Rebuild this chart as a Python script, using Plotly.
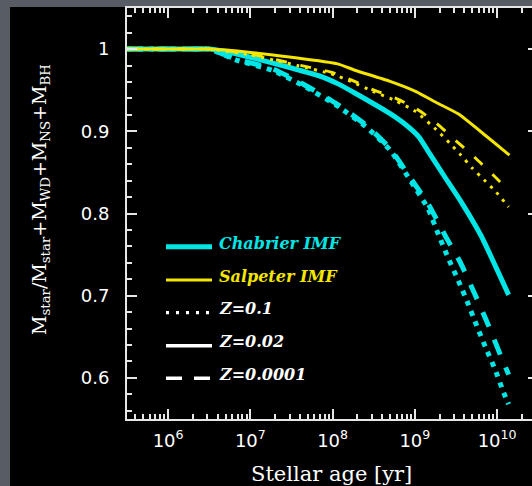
import numpy as np
import plotly.graph_objects as go

# ---- data: log10(age / yr) and stellar-mass fraction M_star / (M_star + remnants) ----
chab_z02_logt = [5.5, 6.3, 6.5, 6.8, 7.0, 7.5, 7.88, 8.06, 8.28, 8.69, 8.9, 9.05, 9.16, 9.36, 9.57, 9.81, 10.03, 10.14]
chab_z02_frac = [1.0, 1.0, 1.0, 0.995, 0.990, 0.977, 0.966, 0.958, 0.946, 0.922, 0.907, 0.893, 0.876, 0.845, 0.813, 0.772, 0.725, 0.701]

chab_z01_logt = [5.5, 6.3, 6.5, 6.82, 7.27, 7.65, 8.04, 8.40, 8.70, 8.94, 9.16, 9.28, 9.40, 9.53, 9.64, 9.75, 9.86, 9.98, 10.08, 10.14]
chab_z01_frac = [1.0, 1.0, 1.0, 0.987, 0.974, 0.955, 0.932, 0.906, 0.877, 0.841, 0.806, 0.776, 0.747, 0.718, 0.692, 0.664, 0.637, 0.609, 0.582, 0.568]

chab_z00001_logt = [5.5, 6.3, 6.5, 6.82, 7.27, 7.65, 8.04, 8.40, 8.70, 8.94, 9.16, 9.38, 9.55, 9.72, 9.89, 10.04, 10.14]
chab_z00001_frac = [1.0, 1.0, 1.0, 0.988, 0.976, 0.957, 0.934, 0.908, 0.879, 0.844, 0.812, 0.771, 0.741, 0.704, 0.665, 0.628, 0.604]

salp_z02_logt = [5.5, 6.3, 6.5, 7.0, 7.5, 8.06, 8.28, 8.69, 9.02, 9.26, 9.53, 9.87, 10.15]
salp_z02_frac = [1.0, 1.0, 1.0, 0.996, 0.990, 0.982, 0.974, 0.961, 0.948, 0.935, 0.921, 0.894, 0.871]

salp_z01_logt = [5.5, 6.3, 6.5, 7.0, 7.57, 7.98, 8.24, 8.48, 8.77, 9.01, 9.26, 9.42, 9.56, 9.70, 9.84, 9.98, 10.14]
salp_z01_frac = [1.0, 1.0, 1.0, 0.993, 0.980, 0.970, 0.960, 0.949, 0.937, 0.924, 0.902, 0.886, 0.871, 0.855, 0.841, 0.827, 0.808]

salp_z00001_logt = [5.5, 6.3, 6.5, 7.0, 7.57, 7.98, 8.24, 8.48, 8.77, 9.01, 9.26, 9.47, 9.72, 9.94, 10.14]
salp_z00001_frac = [1.0, 1.0, 1.0, 0.994, 0.981, 0.972, 0.962, 0.951, 0.940, 0.928, 0.910, 0.891, 0.869, 0.848, 0.828]

# axis ticks
x_tick_exps = [6, 7, 8, 9, 10]
y_tick_vals = [0.6, 0.7, 0.8, 0.9, 1.0]
y_tick_text = ["0.6", "0.7", "0.8", "0.9", "1"]

# legend entries
legend_labels = ["Chabrier IMF", "Salpeter IMF", "Z=0.1", "Z=0.02", "Z=0.0001"]

CYAN = "#00e6e6"
YELLOW = "#f5e600"
WHITE = "#ffffff"
AXIS = "#e6e6e6"

W, H = 532, 486
ML, MR, MT, MB = 127, 0, 8, 67
PW, PH = W - ML - MR, H - MT - MB
X_LO = 5.5
X_HI = X_LO + PW / 82.25


def px(xp):
    return (xp - ML) / PW


def py(yp):
    return (H - MB - yp) / PH


fig = go.Figure()

curves = [
    (chab_z01_logt, chab_z01_frac, CYAN, 5, "5px,6px"),
    (chab_z00001_logt, chab_z00001_frac, CYAN, 5, "16px,14px"),
    (chab_z02_logt, chab_z02_frac, CYAN, 5, "solid"),
    (salp_z01_logt, salp_z01_frac, YELLOW, 3, "3px,6px"),
    (salp_z00001_logt, salp_z00001_frac, YELLOW, 3, "11px,14px"),
    (salp_z02_logt, salp_z02_frac, YELLOW, 3, "solid"),
]
for logt, frac, col, w, dash in curves:
    fig.add_trace(go.Scatter(
        x=10 ** np.array(logt), y=frac, mode="lines",
        line=dict(color=col, width=w, dash=dash, shape="spline", smoothing=0.5),
        showlegend=False, hoverinfo="skip",
    ))

# carrier trace for the right-hand tick stubs
fig.add_trace(go.Scatter(x=[], y=[], yaxis="y2", showlegend=False, hoverinfo="skip"))

minor_x = [k * 10.0 ** d for d in range(5, 11) for k in range(2, 10)]

fig.update_layout(
    width=W, height=H,
    margin=dict(l=ML, r=MR, t=MT, b=MB, pad=0),
    paper_bgcolor="#585c64",
    plot_bgcolor="#000000",
    font=dict(family="DejaVu Sans", color=WHITE),
    xaxis=dict(
        type="log", range=[X_LO, X_HI],
        tickmode="array",
        tickvals=[10.0 ** e for e in x_tick_exps],
        ticktext=[f"10<sup>{e}</sup>" for e in x_tick_exps],
        ticks="inside", ticklen=10, tickwidth=2, tickcolor=AXIS,
        minor=dict(tickmode="array", tickvals=minor_x, ticks="inside",
                   ticklen=5, tickwidth=2, tickcolor=AXIS),
        showline=True, linecolor=AXIS, linewidth=2, mirror="ticks",
        showgrid=False, zeroline=False,
        tickfont=dict(family="DejaVu Sans", size=18, color=WHITE),
        ticklabelstandoff=4,
    ),
    yaxis=dict(
        range=[0.55, 1.05],
        tickmode="array", tickvals=y_tick_vals, ticktext=y_tick_text,
        ticks="inside", ticklen=10, tickwidth=2, tickcolor=AXIS,
        minor=dict(dtick=0.02, tick0=0, ticks="inside",
                   ticklen=5, tickwidth=2, tickcolor=AXIS),
        showline=True, linecolor=AXIS, linewidth=2,
        showgrid=False, zeroline=False,
        tickfont=dict(family="DejaVu Sans", size=18, color=WHITE),
        ticklabelstandoff=12,
    ),
    yaxis2=dict(
        overlaying="y", side="right", anchor="x",
        range=[0.55, 1.05],
        tickmode="array", tickvals=y_tick_vals,
        ticks="inside", ticklen=4, tickwidth=2, tickcolor=AXIS,
        showticklabels=False, showline=False, showgrid=False, zeroline=False,
    ),
)

# black panel behind the plot
fig.add_shape(type="rect", xref="paper", yref="paper",
              x0=px(10), x1=px(W + 5), y0=py(H + 5), y1=py(7),
              fillcolor="#000000", line=dict(width=0), layer="below")

# axis titles
fig.add_annotation(
    text="Stellar age [yr]", xref="paper", yref="paper",
    x=px(331), y=py(474), xanchor="center", yanchor="middle", showarrow=False,
    font=dict(family="DejaVu Serif", size=21, color=WHITE),
)
fig.add_annotation(
    text="M<sub>star</sub>/M<sub>star</sub>+M<sub>WD</sub>+M<sub>NS</sub>+M<sub>BH</sub>",
    xref="paper", yref="paper", x=px(40), y=py(200), textangle=-90,
    xanchor="center", yanchor="middle", showarrow=False,
    font=dict(family="DejaVu Serif", size=19, color=WHITE),
)

# legend block: sample line + label
legend_rows = [
    (246.7, 242.5, CYAN, 5, "solid", CYAN),
    (280.0, 275.0, YELLOW, 3, "solid", YELLOW),
    (312.7, 307.5, WHITE, 3.3, "3px,7px", WHITE),
    (345.7, 340.8, WHITE, 3.5, "solid", WHITE),
    (378.3, 373.8, WHITE, 3.5, "16px,12px", WHITE),
]
for label, (ly, ty, lcol, lw, ldash, tcol) in zip(legend_labels, legend_rows):
    fig.add_shape(type="line", xref="paper", yref="paper",
                  x0=px(166), x1=px(212), y0=py(ly), y1=py(ly),
                  line=dict(color=lcol, width=lw, dash=ldash))
    fig.add_annotation(
        text=f"<b><i>{label}</i></b>", xref="paper", yref="paper",
        x=px(217), y=py(ty + 1), xanchor="left", yanchor="middle", showarrow=False,
        font=dict(family="DejaVu Serif", size=16, color=tcol),
    )

fig.write_html("out.html")
